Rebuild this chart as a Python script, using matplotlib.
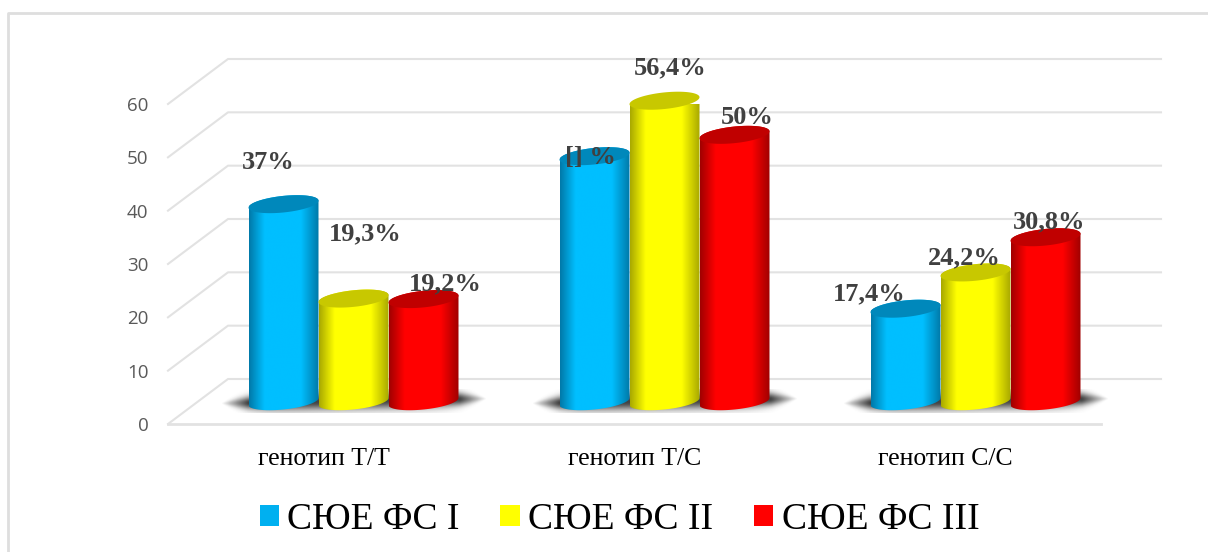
import numpy as np
import matplotlib
matplotlib.use('Agg')
import matplotlib.pyplot as plt
from matplotlib.colors import LinearSegmentedColormap
from matplotlib.patches import Patch, Polygon
from matplotlib.lines import Line2D

categories = ['генотип Т/Т', 'генотип Т/С', 'генотип С/С']
series_names = ['СЮЕ ФС I', 'СЮЕ ФС II', 'СЮЕ ФС III']
fs1 = [37, 46, 17.4]
fs2 = [19.3, 56.4, 24.2]
fs3 = [19.2, 50, 30.8]
fs1_labels = ['37%', '[] %', '17,4%']
fs2_labels = ['19,3%', '56,4%', '24,2%']
fs3_labels = ['19,2%', '50%', '30,8%']
yticks = [0, 10, 20, 30, 40, 50, 60]

# сдвиг подписей от верха столбца, в пикселях
fs1_offsets = [(-15, 42), (-4, -1), (-36, 15)]
fs2_offsets = [(12, 65), (6, 33), (-11, 15)]
fs3_offsets = [(22, 15), (13, 17), (4, 15)]

# цвета: край, центр, крышка
colors = [('#0079A8', '#00BFFF', '#0088BB'),
          ('#A8A800', '#FFFF00', '#C8C800'),
          ('#A00000', '#FF0000', '#C00000')]
legend_colors = ['#00B0F0', '#FFFF00', '#FF0000']
grid_color = '#E2E2E2'
W, H = 1208, 552

fig = plt.figure(figsize=(W / 100, H / 100), dpi=100, facecolor='white')
ax = fig.add_axes([168 / W, 1 - 424 / H, 933 / W, 320 / H])
ax.set_xlim(-0.5, 2.5)
ax.set_ylim(0, 60)
for s in ax.spines.values():
    s.set_visible(False)
ax.patch.set_alpha(0)

# перевод пикселей в единицы осей
px_x = 3 / 933
px_y = 60 / 320
depth_x = 60 * px_x
depth_y = 45 * px_y

# стенка и пол
for v in yticks:
    ax.plot([-0.5, -0.5 + depth_x, 2.5 + depth_x], [v, v + depth_y, v + depth_y],
            color=grid_color, lw=1.5, clip_on=False, zorder=1)
ax.plot([-0.5, 2.5], [0, 0], color=grid_color, lw=2, clip_on=False, zorder=1)

bar_w = 70 * px_x
a = bar_w / 2
b = 8 * px_y
cap_b = 8.3 * px_y
tilt = 3.5 * px_y
base = depth_y / 2
cx = depth_x / 2


def draw_shadow(x):
    # размытая тень на полу, слева чуть ниже чем справа
    gx = np.linspace(-1, 1, 300)
    gy = np.linspace(-1, 1, 60)
    xx, yy = np.meshgrid(gx, gy)
    spread = 0.7 * (1 - np.abs(xx) ** 6) + 0.02
    fade = np.clip((1 - np.abs(xx)) * 5, 0, 1)
    alpha = fade * np.exp(-((yy + 0.2 * xx) / spread) ** 2)
    img = np.zeros((60, 300, 4))
    img[..., :3] = 0.22
    img[..., 3] = alpha * 0.95
    ax.imshow(img, extent=[x - 133 * px_x, x + 133 * px_x, base - 12 * px_y, base + 12 * px_y],
              aspect='auto', zorder=2, clip_on=False, interpolation='bilinear')


def draw_cylinder(x, value, edge, center, cap, z):
    t = np.linspace(0, np.pi, 60)
    top = base + value
    # низ идет слева направо, потом верх обратно
    bot_x = x - a * np.cos(t)
    bot_y = base - b * np.sin(t) + tilt * (-np.cos(t))
    top_x = x + a * np.cos(t)
    top_y = top + cap_b * np.sin(t) + tilt * np.cos(t)
    body = Polygon(np.column_stack([np.r_[bot_x, top_x], np.r_[bot_y, top_y]]),
                   closed=True, transform=ax.transData, fc='none', ec='none')
    ax.add_patch(body)
    cmap = LinearSegmentedColormap.from_list('c', [edge, center, center, edge], N=256)
    grad = np.interp(np.linspace(0, 1, 256), [0, 0.3, 0.65, 1], [0, 0.45, 0.55, 1])[None, :]
    im = ax.imshow(grad, cmap=cmap, vmin=0, vmax=1, aspect='auto', zorder=z,
                   extent=[x - a, x + a, base - 2 * b, top + 2 * b], interpolation='bilinear')
    im.set_clip_path(body)
    tt = np.linspace(0, 2 * np.pi, 90)
    ax.fill(x + a * np.cos(tt), top + cap_b * np.sin(tt) + tilt * np.cos(tt),
            color=cap, lw=0, zorder=z + 0.1, clip_on=False)


all_values = [fs1, fs2, fs3]
all_labels = [fs1_labels, fs2_labels, fs3_labels]
all_offsets = [fs1_offsets, fs2_offsets, fs3_offsets]
for g in range(len(categories)):
    draw_shadow(g + cx)
    for s in range(3):
        x = g + cx + (s - 1) * bar_w
        draw_cylinder(x, all_values[s][g], *colors[s], 3 + s * 0.5)
        ax.annotate(all_labels[s][g], xy=(x, base + all_values[s][g]),
                    xytext=all_offsets[s][g], textcoords='offset pixels',
                    ha='center', va='center', family='Liberation Serif', weight='bold',
                    fontsize=19, color='#404040', zorder=10, annotation_clip=False)

ax.set_xlim(-0.5, 2.5)
ax.set_ylim(0, 60)
ax.set_xticks(range(3))
ax.set_xticklabels(categories, family='Liberation Serif', fontsize=18.5, color='black')
ax.set_yticks(yticks)
ax.set_yticklabels(yticks, family='Open Sans', fontsize=13.5, color='#595959')
ax.tick_params(axis='x', length=0, pad=17.5)
ax.tick_params(axis='y', length=0, pad=14)

handles = [Patch(fc=c, ec='none') for c in legend_colors]
fig.legend(handles, series_names, ncol=3, frameon=False, loc='center',
           bbox_to_anchor=(619.5 / W, 1 - 519.5 / H), prop={'family': 'Liberation Serif', 'size': 27},
           handlelength=0.52, handleheight=0.52, handletextpad=0.22, columnspacing=1.08,
           labelcolor='black')

# рамка диаграммы, справа и снизу ее нет
fig.add_artist(Line2D([8 / W, 8 / W, 1], [0, 1 - 13 / H, 1 - 13 / H], color='#DEDEDE', lw=2))

fig.savefig('out.png', dpi=100)
